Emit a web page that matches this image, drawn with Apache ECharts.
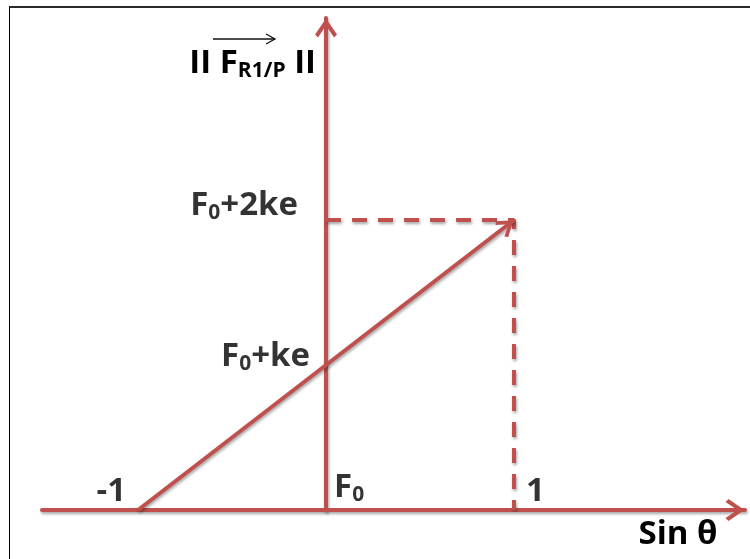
<!DOCTYPE html>
<html>
<head>
<meta charset="utf-8">
<script src="https://cdn.jsdelivr.net/npm/echarts@6/dist/echarts.min.js"></script>
<style>
  html, body { margin: 0; padding: 0; background: #fff; overflow: hidden; }
  #frame { position: absolute; left: 9px; top: 6px; width: 741px; height: 553px;
           border-top: 2px solid #2b2b2b; border-left: 1px solid #000; box-sizing: border-box; }
  #chart { position: absolute; left: 0; top: 0; width: 750px; height: 559px; }
</style>
</head>
<body>
<div id="frame"></div>
<div id="chart"></div>
<script>
// x = sin θ, y counted in "ke" above F0
const xRange = [-1.511, 2.229];
const yRange = [0, 3.393];
const slopeLine = [[-1, 0], [1, 2]];
const guideLine = [[0, 2], [1, 2], [1, 0]];
const xTicks = [-1, 0, 1];
const xTickLabels = ['-1', 'F{sub|0}', '1'];
const yTicks = [1, 2];
const yTickLabels = ['F{sub|0}+ke', 'F{sub|0}+2ke'];
const xName = 'Sin θ';
const yName = 'II F{sub|R1/P} II';

const RED = '#c0504d';
const FONT = '"Open Sans"';
const SIZE = 33;
// open chevron, tip in the middle of its box so it ends on the line end
const ARROW = 'path://M11 0L11.01 0M0 36L11 20L22 36L19 39L11 27L3 39Z';

const shadow = {
  shadowColor: 'rgba(0,0,0,0.35)',
  shadowBlur: 3,
  shadowOffsetX: 1,
  shadowOffsetY: 2
};

const subStyle = { fontFamily: FONT, fontWeight: 'bold', fontSize: 21, color: '#000', padding: [14, 0, 0, 0] };

// where each tick text sits relative to its point
const xLabelPlace = [
  { align: 'right', offset: [-12, -18] },
  { align: 'left', offset: [8, -22] },
  { align: 'left', offset: [12, -18] }
];
const yLabelPlace = [
  { align: 'right', offset: [-16, -8] },
  { align: 'right', offset: [-28, -14] }
];

const labelData = [];
xTicks.forEach((v, i) => {
  labelData.push({
    value: [v, 0],
    label: { formatter: xTickLabels[i], align: xLabelPlace[i].align, offset: xLabelPlace[i].offset }
  });
});
yTicks.forEach((v, i) => {
  labelData.push({
    value: [0, v],
    label: { formatter: yTickLabels[i], align: yLabelPlace[i].align, offset: yLabelPlace[i].offset }
  });
});

const chart = echarts.init(document.getElementById('chart'));

const hidden = {
  axisTick: { show: false },
  axisLabel: { show: false },
  splitLine: { show: false }
};

chart.setOption({
  animation: false,
  grid: { left: 42, right: 5, top: 18, bottom: 49 },
  xAxis: {
    type: 'value',
    min: xRange[0],
    max: xRange[1],
    ...hidden,
    axisLine: {
      symbol: ['none', ARROW],
      symbolSize: [22, 39],
      lineStyle: { color: RED, width: 4, ...shadow }
    },
    name: xName,
    nameLocation: 'end',
    nameGap: -67,
    nameTextStyle: {
      fontFamily: FONT, fontWeight: 'bold', fontSize: SIZE, color: '#000',
      align: 'center', verticalAlign: 'top', padding: [8, 0, 0, 0]
    }
  },
  yAxis: {
    type: 'value',
    min: yRange[0],
    max: yRange[1],
    ...hidden,
    axisLine: {
      onZero: true,
      symbol: ['none', ARROW],
      symbolSize: [22, 39],
      lineStyle: { color: RED, width: 4, ...shadow }
    },
    name: yName,
    nameLocation: 'end',
    nameGap: -46,
    nameTextStyle: {
      fontFamily: FONT, fontWeight: 'bold', fontSize: SIZE, color: '#000',
      align: 'right', verticalAlign: 'middle', padding: [0, 10, 0, 0],
      rich: { sub: subStyle }
    }
  },
  series: [
    {
      type: 'line',
      name: 'guide',
      data: guideLine,
      symbol: 'none',
      silent: true,
      lineStyle: { color: RED, width: 4, type: [15, 11], ...shadow },
      markLine: {
        silent: true,
        symbol: ['none', ARROW],
        symbolSize: [20, 35.5],
        label: { show: false },
        emphasis: { disabled: true },
        lineStyle: { color: RED, width: 4, type: 'solid', ...shadow },
        data: [[{ coord: slopeLine[0] }, { coord: slopeLine[1] }]]
      }
    },
    {
      type: 'scatter',
      name: 'labels',
      data: labelData,
      symbolSize: 0,
      silent: true,
      label: {
        show: true,
        position: 'inside',
        verticalAlign: 'middle',
        fontFamily: FONT,
        fontWeight: 'bold',
        fontSize: SIZE,
        color: '#000',
        rich: { sub: subStyle }
      }
    }
  ],
  graphic: [{
    type: 'group',
    silent: true,
    children: [
      { type: 'line', shape: { x1: 213, y1: 39, x2: 275, y2: 39 }, style: { stroke: '#111', lineWidth: 1.3 } },
      { type: 'polyline', shape: { points: [[266, 34], [275, 39], [266, 44]] }, style: { stroke: '#111', fill: null, lineWidth: 1.3 } }
    ]
  }]
});
</script>
</body>
</html>
